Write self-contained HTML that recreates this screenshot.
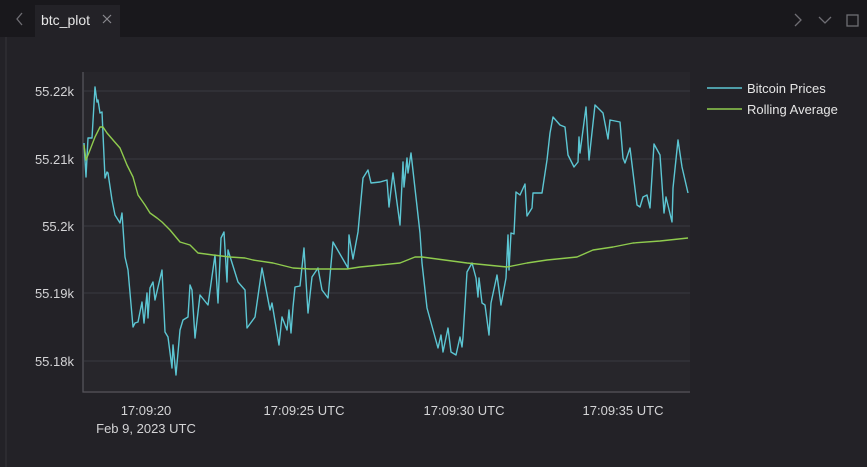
<!DOCTYPE html>
<html><head><meta charset="utf-8"><style>
html,body{margin:0;padding:0;width:867px;height:467px;overflow:hidden;background:#222126;font-family:"Liberation Sans",sans-serif;}
</style></head><body>
<svg width="867" height="467" viewBox="0 0 867 467" xmlns="http://www.w3.org/2000/svg" font-family="Liberation Sans, sans-serif">
<rect x="0" y="0" width="867" height="467" fill="#232227"/>
<rect x="0" y="0" width="867" height="37" fill="#19181c"/>
<rect x="35" y="5" width="85" height="32" fill="#232227"/>
<path d="M22 13 L17 19 L22 25" stroke="#6f6e74" stroke-width="1.3" fill="none"/>
<text x="41" y="25" font-size="14" fill="#e6e6e6">btc_plot</text>
<path d="M103 15 L111 23 M111 15 L103 23" stroke="#8a898f" stroke-width="1.2"/>
<path d="M795 14 L801 20 L795 26" stroke="#6f6e74" stroke-width="1.3" fill="none"/>
<path d="M819 17 L825 23 L831 17" stroke="#6f6e74" stroke-width="1.3" fill="none"/>
<rect x="847" y="15" width="11" height="11" stroke="#6f6e74" stroke-width="1.3" fill="none"/>
<rect x="5" y="37" width="2" height="430" fill="#2c2b30"/>
<rect x="83" y="72" width="607" height="321" fill="#27262b"/>
<g stroke="#37363c" stroke-width="1.3">
<line x1="84" y1="91" x2="690" y2="91"/><line x1="84" y1="159" x2="690" y2="159"/><line x1="84" y1="226" x2="690" y2="226"/><line x1="84" y1="293" x2="690" y2="293"/><line x1="84" y1="361" x2="690" y2="361"/>
</g>
<path d="M83 72 V392 H690" stroke="#55545a" stroke-width="1.3" fill="none"/>
<g font-size="13" fill="#d4d4d6" text-anchor="end">
<text x="74" y="96">55.22k</text><text x="74" y="164">55.21k</text><text x="74" y="231">55.2k</text><text x="74" y="298">55.19k</text><text x="74" y="366">55.18k</text>
</g>
<g font-size="13" fill="#d4d4d6" text-anchor="middle">
<text x="146" y="415">17:09:20</text><text x="146" y="433">Feb 9, 2023 UTC</text>
<text x="304" y="415">17:09:25 UTC</text><text x="464" y="415">17:09:30 UTC</text><text x="623" y="415">17:09:35 UTC</text>
</g>
<polyline fill="none" stroke="#5cc6d3" stroke-width="1.4" stroke-linejoin="round" points="84,143 86,177 88,138 92,138 95,87 97,102 98,100 100,113 102,112 105,178 107,172 108,173 112,200 115,215 120,223 122,213 125,257 128,270 133,327 135,323 138,322 142,302 144,323 147,293 148,318 150,288 153,282 155,300 162,270 165,332 168,337 172,368 173,345 176,375 180,330 183,320 188,317 190,285 192,290 195,338 200,295 208,305 215,255 218,303 221,238 224,232 227,282 228,250 238,282 245,290 247,328 255,317 262,268 270,310 272,303 279,345 282,317 287,330 289,310 291,333 293,307 295,287 300,286 304,248 308,313 312,277 318,268 322,290 328,298 333,242 348,268 349,235 353,259 358,232 363,178 368,170 371,183 380,182 387,180 389,207 393,173 400,225 403,162 404,187 407,158 408,173 411,153 420,233 422,263 427,308 438,348 441,335 443,352 448,328 451,352 456,355 460,337 462,347 463,337 467,272 472,263 476,278 478,297 479,278 482,303 485,305 489,335 491,303 497,275 501,305 506,278 508,235 509,270 511,233 514,234 516,192 520,195 525,184 527,216 532,208 533,193 542,193 547,160 550,133 553,117 560,125 565,127 568,155 574,167 578,162 579,137 580,153 586,107 589,160 595,105 603,113 608,139 610,120 620,122 623,158 625,163 630,148 637,205 640,207 643,197 647,195 650,208 654,144 660,155 664,213 666,197 672,222 673,188 678,140 682,167 688,193"/>
<polyline fill="none" stroke="#8fcb4e" stroke-width="1.4" stroke-linejoin="round" points="84,145 86,160 90,150 95,137 100,127 103,127 107,133 113,140 120,148 127,165 133,177 138,195 145,205 150,213 157,218 162,222 170,230 180,242 190,245 198,253 213,255 230,257 245,258 253,260 273,263 293,268 310,269 347,269 360,267 370,266 380,265 400,263 415,257 422,257 467,263 507,267 527,263 547,260 577,257 593,250 613,247 633,243 660,241 688,238"/>
<line x1="707" y1="88" x2="742" y2="88" stroke="#5cc6d3" stroke-width="1.4"/>
<line x1="707" y1="109" x2="742" y2="109" stroke="#8fcb4e" stroke-width="1.4"/>
<text x="747" y="93" font-size="13" fill="#e6e6e6">Bitcoin Prices</text>
<text x="747" y="114" font-size="13" fill="#e6e6e6">Rolling Average</text>
</svg>
</body></html>
